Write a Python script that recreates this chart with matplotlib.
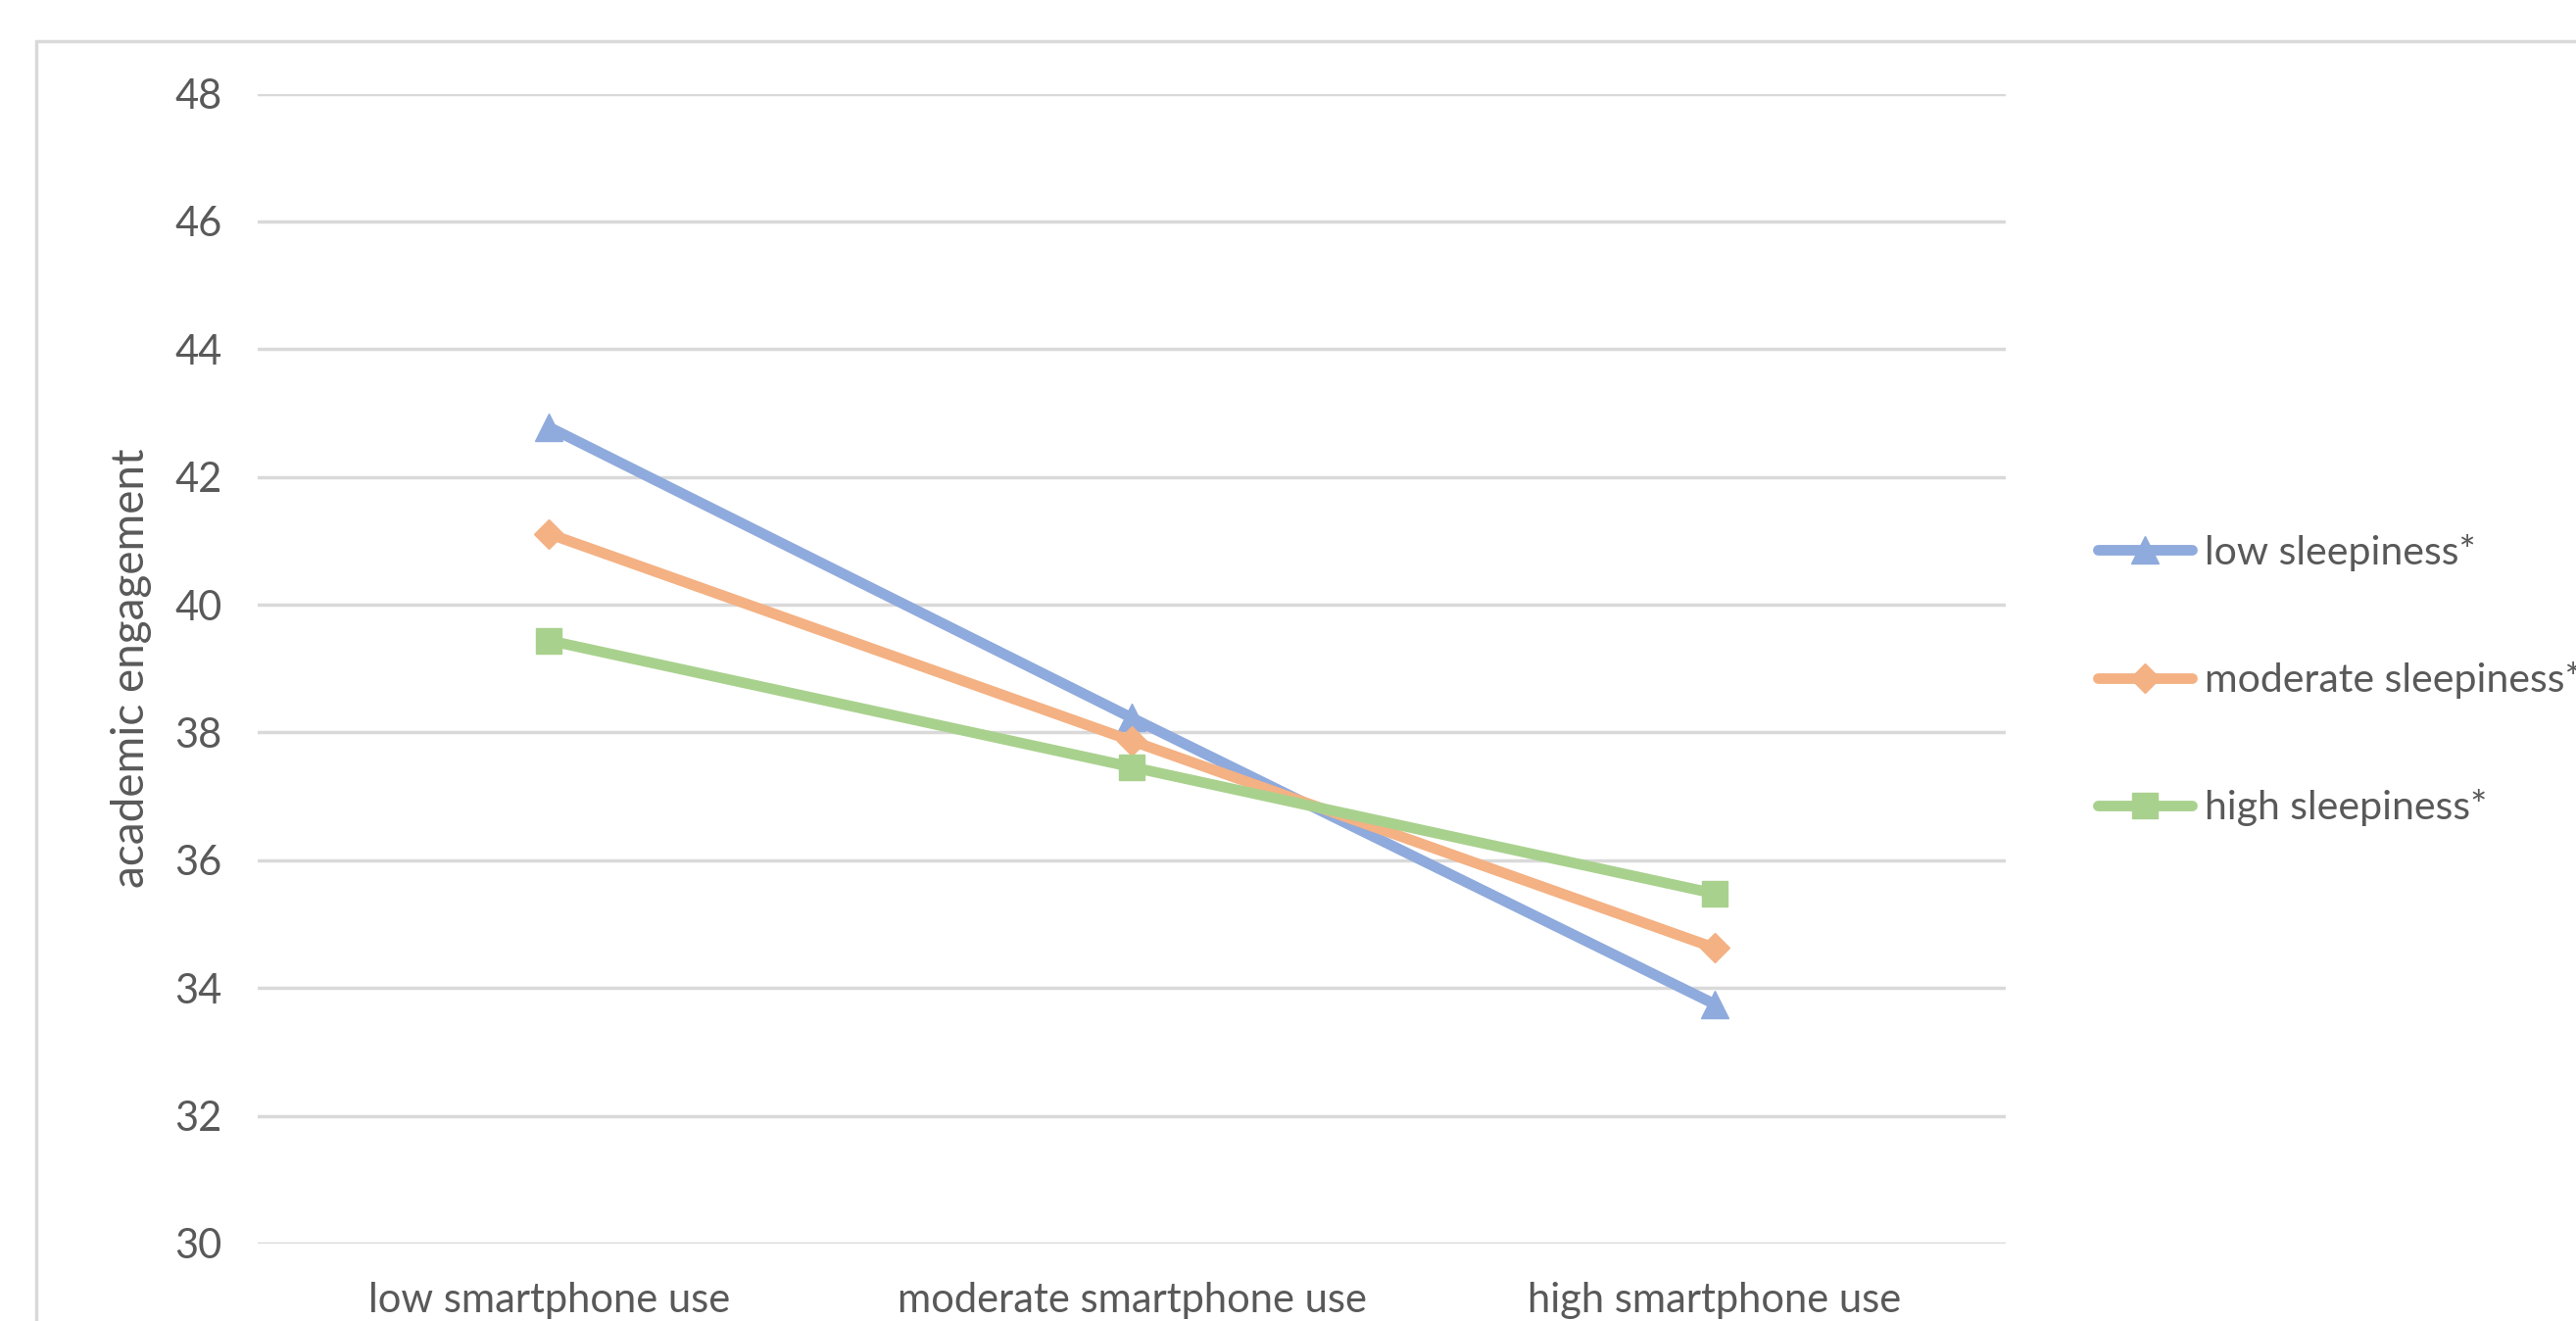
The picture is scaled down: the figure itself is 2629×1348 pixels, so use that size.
import matplotlib
matplotlib.use("Agg")
import matplotlib.pyplot as plt
from matplotlib.patches import Rectangle
from matplotlib.lines import Line2D

categories = ["low smartphone use", "moderate smartphone use", "high smartphone use"]
series_names = ["low sleepiness*", "moderate sleepiness*", "high sleepiness*"]
low_sleepiness = [42.78, 38.23, 33.75]
moderate_sleepiness = [41.11, 37.87, 34.63]
high_sleepiness = [39.44, 37.46, 35.48]
y_ticks = [30, 32, 34, 36, 38, 40, 42, 44, 46, 48]

colors = ["#8FAADC", "#F4B183", "#A9D18E"]
markers = ["^", "D", "s"]
msizes = [20, 15, 19]

plt.rcParams['font.family'] = ['Lato', 'DejaVu Sans']
W, H = 2629, 1348
fig = plt.figure(figsize=(W / 100, H / 100), dpi=100)

# chart frame
fig.patches.append(Rectangle((37 / W, -0.1), 1.2, 1 - 42 / H + 0.1, transform=fig.transFigure,
                             fill=False, edgecolor="#D9D9D9", linewidth=2.5, zorder=0))

ax = fig.add_axes([263 / W, 79 / H, (2047 - 263) / W, (1269 - 95.6) / H])
x = list(range(len(categories)))
for vals, c, m, ms, name in zip([low_sleepiness, moderate_sleepiness, high_sleepiness],
                                colors, markers, msizes, series_names):
    ax.plot(x, vals, color=c, marker=m, markersize=ms, linewidth=7.8, label=name,
            solid_capstyle="round", zorder=3)

ax.set_xlim(-0.5, 2.5)
ax.set_ylim(30, 48)
ax.set_yticks(y_ticks)
ax.set_yticklabels([str(t) for t in y_ticks])
ax.set_xticks(x)
ax.set_xticklabels(categories)
ax.grid(axis="y", color="#D9D9D9", linewidth=2.5)
ax.set_axisbelow(True)
for s in ax.spines.values():
    s.set_visible(False)
ax.tick_params(axis="both", length=0, labelsize=30, labelcolor="#595959")
ax.tick_params(axis="y", pad=26)
ax.tick_params(axis="x", pad=28)
fig.text(134 / W, 1 - 682 / H, "academic engagement", rotation=90, ha="center", va="center",
         fontsize=33, color="#595959")

handles = [Line2D([0], [0], color=c, marker=m, markersize=ms, linewidth=7.8, solid_capstyle="round")
           for c, m, ms in zip(colors, markers, msizes)]
fig.legend(handles, series_names, loc="center left", bbox_to_anchor=(2141 / W, 1 - 694 / H),
           frameon=False, fontsize=29.5, labelcolor="#595959", handlelength=2.35,
           handletextpad=0.3, labelspacing=2.25, borderpad=0, borderaxespad=0)

fig.savefig("out.png", dpi=100, facecolor="white")
